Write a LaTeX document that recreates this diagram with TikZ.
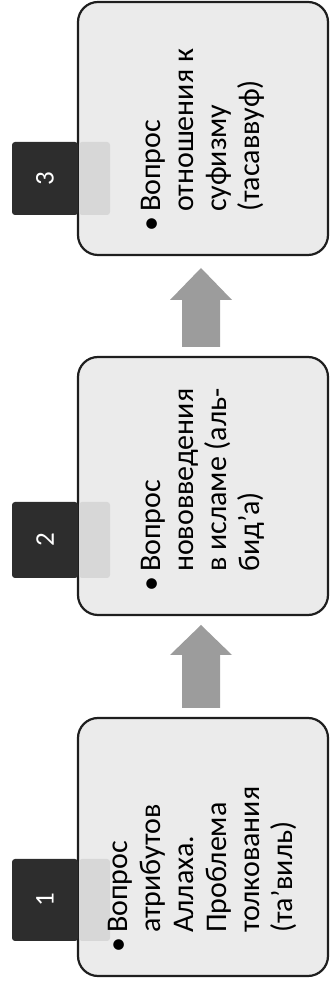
\documentclass[tikz,border=0pt]{standalone}
\usepackage{fontspec}
\setmainfont{Carlito}
\definecolor{boxfill}{HTML}{EBEBEB}
\definecolor{boxline}{HTML}{1E1E1E}
\definecolor{tabdark}{HTML}{2D2D2D}
\definecolor{tablight}{HTML}{D7D7D7}
\definecolor{arrowgray}{HTML}{9C9C9C}
\begin{document}
\begin{tikzpicture}[x=1pt,y=1pt,
  stagebox/.style={draw=boxline, line width=2.2pt, fill=boxfill, rounded corners=20pt,
    minimum width=250pt, inner sep=0pt},
  tabdarkbox/.style={fill=tabdark, rounded corners=3pt, minimum width=66pt, inner sep=0pt},
  tablightbox/.style={fill=tablight, rounded corners=3pt, minimum width=31pt, inner sep=0pt},
  numtext/.style={text=white, rotate=90, font=\fontsize{27}{30}\selectfont, inner sep=0pt},
  stagetext/.style={rotate=90, anchor=west, inner sep=0pt, text=black,
    font=\fontsize{30}{33}\selectfont},
  blockarrow/.style={fill=arrowgray}
]
\useasboundingbox (0,0) rectangle (331,989);

% boxes (image y -> Y = 989 - y)
\node[stagebox, minimum height=253pt] (b3) at (203,860.5) {};
\node[stagebox, minimum height=258pt] (b2) at (203,503) {};
\node[stagebox, minimum height=258pt] (b1) at (203,142) {};

% tabs
\node[tabdarkbox, minimum height=73pt] (t3) at (45,810.5) {};
\node[tablightbox, minimum height=73pt] (t3l) at (94.5,810.5) {};
\node[numtext] (n3) at (t3) {3};
\node[tabdarkbox, minimum height=76pt] (t2) at (45,449) {};
\node[tablightbox, minimum height=76pt] (t2l) at (94.5,449) {};
\node[numtext] (n2) at (t2) {2};
\node[tabdarkbox, minimum height=82pt] (t1) at (45,89) {};
\node[tablightbox, minimum height=82pt] (t1l) at (94.5,89) {};
\node[numtext] (n1) at (t1) {1};

% texts
\node[stagetext] (x3) at ([yshift=24pt]b3.south) {\begin{tabular}{@{}l@{\hspace{5pt}}l@{}}
\textbullet & Вопрос\\ & отношения к\\ & суфизму\\ & (тасаввуф)\end{tabular}};
\node[stagetext] (x2) at ([yshift=24pt]b2.south) {\begin{tabular}{@{}l@{\hspace{5pt}}l@{}}
\textbullet & Вопрос\\ & нововведения\\ & в исламе (аль-\\ & бид’а)\end{tabular}};
\node[stagetext] (x1) at ([yshift=24pt]b1.south) {\begin{tabular}{@{}l@{\hspace{5pt}}l@{}}
\textbullet & Вопрос\\ & атрибутов\\ & Аллаха.\\ & Проблема\\ & толкования\\ & (та’виль)\end{tabular}};

% block arrows
\fill[blockarrow] (182,281) -- (220,281) -- (220,334) -- (232,334) -- (201,364)
  -- (170,334) -- (182,334) -- cycle;
\fill[blockarrow] (182,642) -- (220,642) -- (220,689) -- (232,689) -- (201,721)
  -- (170,689) -- (182,689) -- cycle;
\end{tikzpicture}
\end{document}
